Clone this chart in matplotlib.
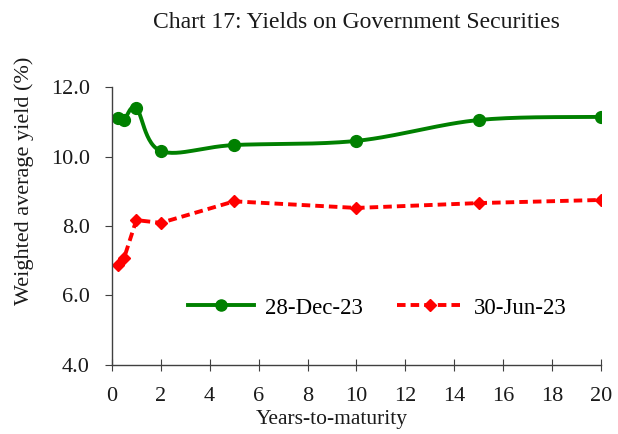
import numpy as np
import matplotlib
matplotlib.use('Agg')
import matplotlib.pyplot as plt

plt.rcParams['font.family'] = ['Liberation Serif', 'DejaVu Serif']

# Data
maturity = [0.25, 0.5, 1, 2, 5, 10, 15, 20]
dec_23 = [11.11, 11.06, 11.39, 10.16, 10.33, 10.45, 11.05, 11.14]
jun_23 = [6.88, 7.08, 8.17, 8.09, 8.71, 8.52, 8.66, 8.75]


def smooth_curve(x, y, n=30):
    # Catmull-Rom style smoothing, similar to Excel's "smoothed line"
    x = np.asarray(x, float)
    y = np.asarray(y, float)
    px, py = [], []
    for i in range(len(x) - 1):
        x0, y0 = (x[i - 1], y[i - 1]) if i > 0 else (x[i], y[i])
        x1, y1 = x[i], y[i]
        x2, y2 = x[i + 1], y[i + 1]
        x3, y3 = (x[i + 2], y[i + 2]) if i + 2 < len(x) else (x2, y2)
        c1 = (x1 + (x2 - x0) / 6, y1 + (y2 - y0) / 6)
        c2 = (x2 - (x3 - x1) / 6, y2 - (y3 - y1) / 6)
        t = np.linspace(0, 1, n)
        bx = (1 - t) ** 3 * x1 + 3 * (1 - t) ** 2 * t * c1[0] + 3 * (1 - t) * t ** 2 * c2[0] + t ** 3 * x2
        by = (1 - t) ** 3 * y1 + 3 * (1 - t) ** 2 * t * c1[1] + 3 * (1 - t) * t ** 2 * c2[1] + t ** 3 * y2
        px.extend(bx)
        py.extend(by)
    return np.array(px), np.array(py)


fig = plt.figure(figsize=(6.18, 4.34), dpi=100)
ax = fig.add_axes([0.181, 0.159, 0.7915, 0.6405])

sx, sy = smooth_curve(maturity, dec_23)
ax.plot(sx, sy, color='#008000', lw=2.8, solid_capstyle='round')
ax.plot(maturity, dec_23, 'o', color='#008000', ms=8.5)
ax.plot([], [], color='#008000', lw=2.8, marker='o', ms=8, label='28-Dec-23')

ax.plot(maturity, jun_23, color='#ff0000', lw=2.8, ls=(0, (2.2, 1.3)),
        marker='D', ms=6, label='30-Jun-23')

ax.set_xlim(0, 20)
ax.set_ylim(4, 12)
ax.set_xticks(range(0, 21, 2))
ax.set_yticks(np.arange(4, 12.1, 2))
ax.set_yticklabels([f'{v:.1f}' for v in np.arange(4, 12.1, 2)])

for s in ['top', 'right']:
    ax.spines[s].set_visible(False)
for s in ['left', 'bottom']:
    ax.spines[s].set_color('#404040')
    ax.spines[s].set_linewidth(1.0)
ax.tick_params(axis='both', labelsize=16, colors='#404040', labelcolor='#1a1a1a')
ax.tick_params(axis='x', direction='inout', length=9, pad=11)
ax.tick_params(axis='y', direction='out', length=5, pad=11)

ax.set_xlabel('Years-to-maturity', fontsize=15.5, color='#1a1a1a')
ax.xaxis.set_label_coords((332 - 112) / 489, -0.163)
ax.set_ylabel('Weighted average yield (%)', fontsize=16, color='#1a1a1a')
ax.yaxis.set_label_coords((34 - 112) / 489, (365 - 181) / 278)
fig.text((356) / 618, 1 - 22 / 434, 'Chart 17: Yields on Government Securities', ha='center', va='center',
         fontsize=17, color='#1a1a1a')

ax.legend(loc='center left', bbox_to_anchor=((188 - 112) / 489, (365 - 308) / 278), ncol=2,
          frameon=False, fontsize=16.5, borderpad=0, borderaxespad=0,
          handlelength=2.9, columnspacing=1.5, handletextpad=0.45)

fig.savefig('out.png', dpi=100)
